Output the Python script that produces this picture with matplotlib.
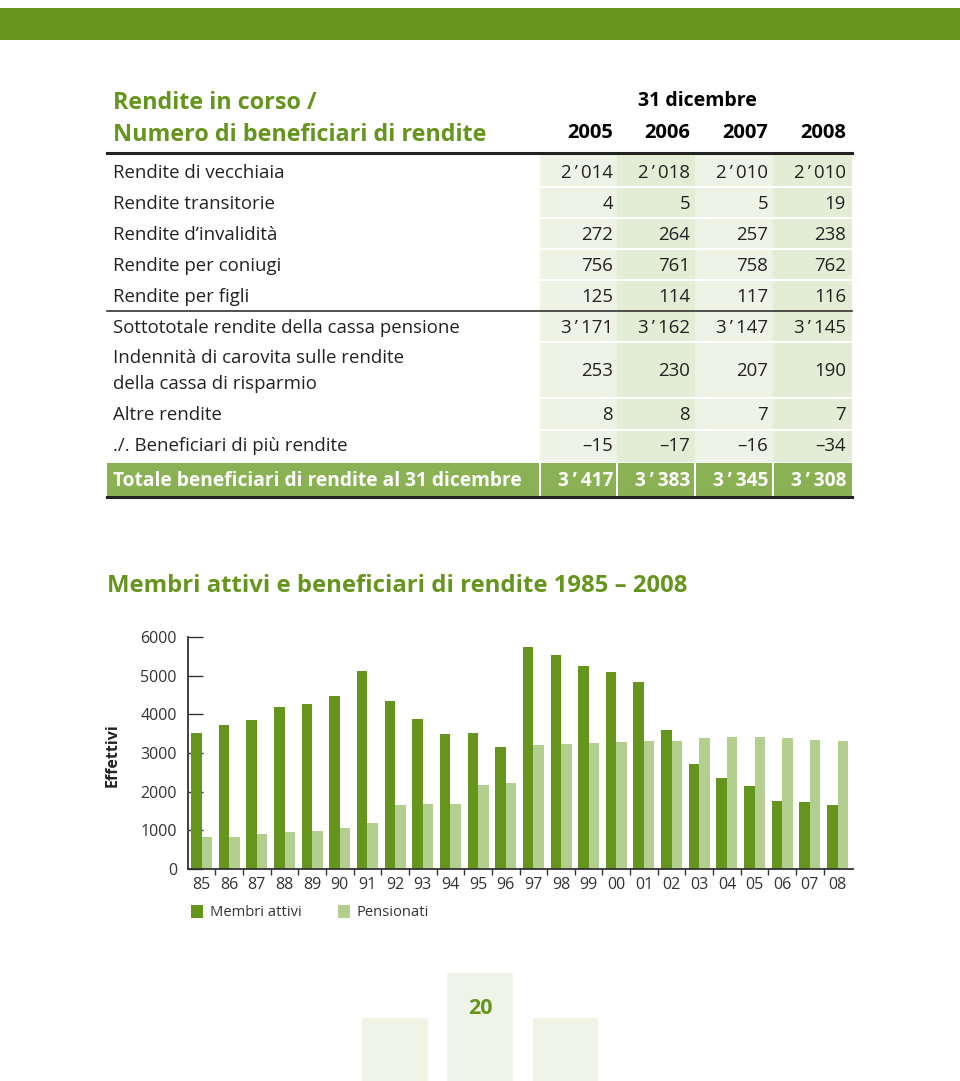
import matplotlib.pyplot as plt
from matplotlib.patches import Rectangle
import numpy as np

plt.rcParams['font.family'] = ['Open Sans', 'DejaVu Sans']

# --- dati tabella ---
anni_tab = ['2005', '2006', '2007', '2008']
righe = ['Rendite di vecchiaia', 'Rendite transitorie', 'Rendite d’invalidità',
         'Rendite per coniugi', 'Rendite per figli',
         'Sottototale rendite della cassa pensione',
         'Indennità di carovita sulle rendite\ndella cassa di risparmio',
         'Altre rendite', './. Beneficiari di più rendite']
ap = '\u2009’\u2009'
valori = [['2' + ap + '014', '2' + ap + '018', '2' + ap + '010', '2' + ap + '010'],
          ['4', '5', '5', '19'],
          ['272', '264', '257', '238'],
          ['756', '761', '758', '762'],
          ['125', '114', '117', '116'],
          ['3' + ap + '171', '3' + ap + '162', '3' + ap + '147', '3' + ap + '145'],
          ['253', '230', '207', '190'],
          ['8', '8', '7', '7'],
          ['–15', '–17', '–16', '–34']]
totale = ['3' + ap + '417', '3' + ap + '383', '3' + ap + '345', '3' + ap + '308']

# --- dati grafico ---
anni = ['85', '86', '87', '88', '89', '90', '91', '92', '93', '94', '95', '96',
        '97', '98', '99', '00', '01', '02', '03', '04', '05', '06', '07', '08']
membri = [3510, 3725, 3860, 4190, 4275, 4480, 5125, 4350, 3870, 3495, 3510, 3160,
          5750, 5530, 5245, 5090, 4825, 3595, 2720, 2350, 2155, 1760, 1735, 1655]
pensionati = [825, 840, 900, 945, 980, 1055, 1195, 1655, 1690, 1690, 2180, 2225,
              3195, 3230, 3260, 3290, 3320, 3320, 3380, 3425, 3417, 3383, 3345, 3308]

verde = '#66951e'
verde_chiaro = '#b3cf8f'
W, H = 960, 1081

fig = plt.figure(figsize=(W / 100, H / 100), dpi=100)

def X(px):
    return px / W

def Y(py):
    return 1 - py / H

def rett(x0, y0, x1, y1, col):
    fig.patches.append(Rectangle((X(x0), Y(y1)), X(x1) - X(x0), Y(y0) - Y(y1),
                                 transform=fig.transFigure, color=col, lw=0, zorder=0))

# barra in alto
rett(0, 8, W, 40, verde)

# intestazione
fig.text(X(113), Y(103), 'Rendite in corso /', color=verde, fontsize=16.8, fontweight='bold', va='center')
fig.text(X(113), Y(135), 'Numero di beneficiari di rendite', color=verde, fontsize=16.8, fontweight='bold', va='center')
fig.text(X(697), Y(101), '31 dicembre', fontsize=14, fontweight='bold', va='center', ha='center')
col_dx = [613, 690, 768, 846]
col_bordi = [540, 617, 695, 773, 852]
for a, xx in zip(anni_tab, col_dx):
    fig.text(X(xx), Y(133), a, fontsize=14.5, fontweight='bold', va='center', ha='right')

# sfondo colonne
for j in range(4):
    c = '#eef3e5' if j % 2 == 0 else '#e3ecd4'
    rett(col_bordi[j], 155, col_bordi[j + 1], 462, c)

y_righe = [172, 203, 234, 265, 296, 327, 370, 414, 445]
sep = [187, 218, 249, 280, 342, 398, 430]
for s in sep:
    rett(540, s - 1, 852, s + 1, 'white')

for nome, vals, yy in zip(righe, valori, y_righe):
    fig.text(X(113), Y(yy + 1), nome, fontsize=13.4, va='center', color='#222222', linespacing=1.6)
    for v, xx in zip(vals, col_dx):
        fig.text(X(xx), Y(yy + 1), v, fontsize=13.4, va='center', ha='right', color='#222222')

# righe
fig.add_artist(plt.Line2D([X(107), X(852)], [Y(153), Y(153)], color='#222222', lw=2.2))
fig.add_artist(plt.Line2D([X(107), X(852)], [Y(311), Y(311)], color='#333333', lw=1.2))

# riga totale
rett(107, 463, 852, 496, '#8ab254')
for b in col_bordi[:-1]:
    rett(b - 1, 463, b + 1, 496, 'white')
fig.text(X(113), Y(481), 'Totale beneficiari di rendite al 31 dicembre', fontsize=13.8,
         fontweight='bold', va='center', color='white')
for v, xx in zip(totale, col_dx):
    fig.text(X(xx), Y(481), v, fontsize=13.8, fontweight='bold', va='center', ha='right', color='white')
fig.add_artist(plt.Line2D([X(107), X(852)], [Y(497), Y(497)], color='#222222', lw=2.2))

# titolo grafico
fig.text(X(107), Y(586), 'Membri attivi e beneficiari di rendite 1985 – 2008', color=verde,
         fontsize=17.2, fontweight='bold', va='center')

# grafico
ax = fig.add_axes([X(188), Y(869), X(853) - X(188), Y(637) - Y(869)])
x = np.arange(len(anni))
w = 0.38
ax.bar(x - w / 2, membri, width=w, color=verde, zorder=2)
ax.bar(x + w / 2, pensionati, width=w, color=verde_chiaro, zorder=2)
ax.set_xlim(-0.49, 23.56)
ax.set_ylim(0, 6000)
ax.set_yticks(range(0, 6001, 1000))
ax.tick_params(axis='y', direction='in', length=11, width=1, color='#333333',
               labelsize=11.5, pad=8, labelcolor='#333333')
ax.set_xticks(x)
ax.set_xticklabels(anni)
ax.set_xticks(x[:-1] + 0.5, minor=True)
ax.tick_params(axis='x', which='major', length=0, labelsize=11.5, pad=6, labelcolor='#333333')
ax.tick_params(axis='x', which='minor', direction='out', length=4, width=1, color='#333333')
for s in ['top', 'right']:
    ax.spines[s].set_visible(False)
for s in ['left', 'bottom']:
    ax.spines[s].set_color('#333333')
    ax.spines[s].set_linewidth(1.3)
ax.set_facecolor('none')

fig.text(X(113), Y(755), 'Effettivi', rotation=90, fontsize=11.5, fontweight='bold',
         va='center', ha='center', color='#222222')

# legenda
rett(191, 905, 203, 918, verde)
fig.text(X(210), Y(912), 'Membri attivi', fontsize=10.6, va='center', color='#333333')
rett(338, 905, 350, 918, verde_chiaro)
fig.text(X(356), Y(912), 'Pensionati', fontsize=10.6, va='center', color='#333333')

# numero pagina
rett(447, 973, 513, H, '#f0f4e7')
rett(362, 1018, 428, H, '#f0f4e7')
rett(533, 1018, 598, H, '#f0f4e7')
fig.text(X(480), Y(1008), '20', color=verde, fontsize=15.5, fontweight='bold', ha='center', va='center')

fig.savefig('out.png', dpi=100)
